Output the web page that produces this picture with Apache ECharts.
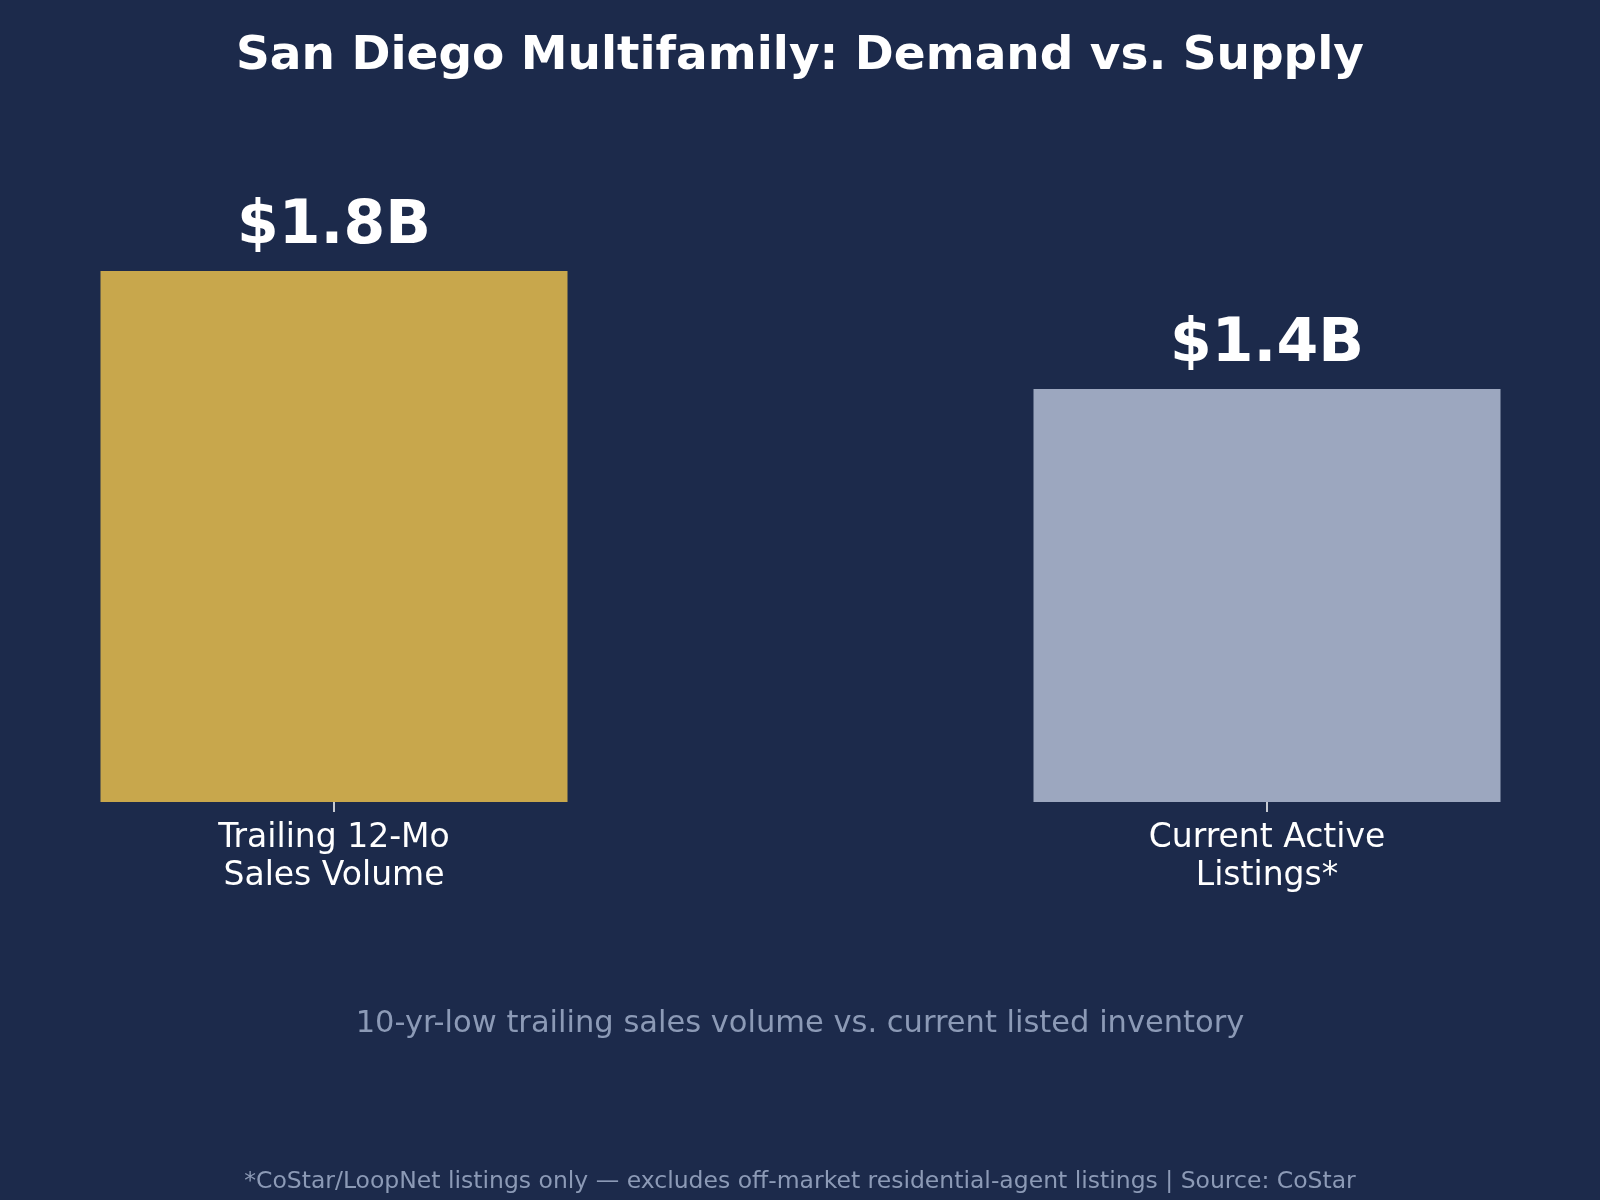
<!DOCTYPE html>
<html>
<head>
<meta charset="utf-8">
<script src="https://cdn.jsdelivr.net/npm/echarts@6/dist/echarts.min.js"></script>
<style>
  html, body { margin: 0; padding: 0; background: #1c2a4b; }
  #chart { width: 1600px; height: 1200px; }
</style>
</head>
<body>
<div id="chart"></div>
<script>
const categories = ["Trailing 12-Mo\nSales Volume", "Current Active\nListings*"]
const values = [1.8, 1.4]
const value_labels = ["$1.8B", "$1.4B"]
const bar_colors = ["#c8a74c", "#9ca7bf"]

const bg = "#1c2a4b"
const font = "DejaVu Sans"

var chartDom = document.getElementById('chart');
var myChart = echarts.init(chartDom);
var option;

option = {
  backgroundColor: bg,
  animation: false,
  title: [
    {
      text: 'San Diego Multifamily: Demand vs. Supply',
      left: 'center',
      top: 28,
      textStyle: { color: '#ffffff', fontFamily: font, fontWeight: 'bold', fontSize: 47 }
    },
    {
      text: '10-yr-low trailing sales volume vs. current listed inventory',
      left: 'center',
      top: 1004,
      textStyle: { color: '#8c9ab6', fontFamily: font, fontWeight: 'normal', fontSize: 30.5 }
    },
    {
      text: '*CoStar/LoopNet listings only \u2014 excludes off-market residential-agent listings | Source: CoStar',
      left: 'center',
      top: 1165,
      textStyle: { color: '#8c9ab6', fontFamily: font, fontWeight: 'normal', fontSize: 23.5 }
    }
  ],
  grid: {
    left: 334,
    right: 333,
    top: 271,
    bottom: 398
  },
  xAxis: {
    type: 'category',
    data: categories,
    boundaryGap: false,
    axisLine: { show: false },
    axisTick: { show: true, length: 10, lineStyle: { color: '#ffffff', width: 1.5 } },
    axisLabel: {
      color: '#ffffff', fontFamily: font, fontSize: 33, lineHeight: 38, margin: 17
    }
  },
  yAxis: {
    type: 'value',
    min: 0,
    max: 1.8,
    show: false,
    splitLine: { show: false }
  },
  series: [
    {
      type: 'bar',
      barWidth: 467,
      clip: false,
      data: values.map(function (v, i) {
        return {
          value: v,
          itemStyle: { color: bar_colors[i] },
          label: {
            show: true,
            position: 'top',
            distance: 14,
            formatter: value_labels[i],
            color: '#ffffff',
            fontFamily: font,
            fontWeight: 'bold',
            fontSize: 60
          }
        }
      })
    }
  ]
};
option && myChart.setOption(option);
</script>
</body>
</html>
